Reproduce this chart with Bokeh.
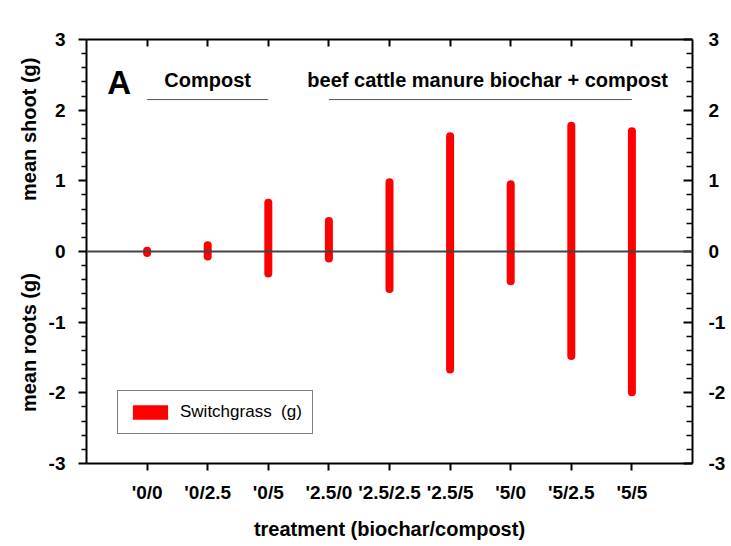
from bokeh.plotting import figure
from bokeh.models import (LinearAxis, FixedTicker, Range1d, Span, Label, Legend,
                          LegendItem, ColumnDataSource)
from bokeh.embed import file_html
from bokeh.resources import INLINE

# ---------------- data ----------------
treatments = ["'0/0", "'0/2.5", "'0/5", "'2.5/0", "'2.5/2.5", "'2.5/5", "'5/0", "'5/2.5", "'5/5"]
mean_shoot = [0.01, 0.09, 0.69, 0.43, 0.98, 1.63, 0.95, 1.78, 1.70]
mean_roots = [-0.02, -0.07, -0.31, -0.10, -0.53, -1.67, -0.42, -1.48, -1.99]
y_ticks = [-3, -2, -1, 0, 1, 2, 3]
group_names = ["Compost", "beef cattle manure biochar + compost"]
group_first = [1, 4]   # first treatment position of each group
group_last = [3, 9]    # last treatment position of each group
series_name = "Switchgrass  (g)"
x_title = "treatment (biochar/compost)"
y_title_shoot = "mean shoot (g)"
y_title_roots = "mean roots (g)"

pos = list(range(1, len(treatments) + 1))

FONT = "Liberation Sans"
NB = "\u00a0"

p = figure(width=731, height=546, output_backend="svg", toolbar_location=None,
           x_range=Range1d(0, len(treatments) + 1), y_range=Range1d(-3, 3),
           x_axis_location=None, y_axis_location=None,
           min_border_left=86, min_border_right=39, min_border_top=39, min_border_bottom=83,
           background_fill_color="white", border_fill_color="white")
p.outline_line_color = None
p.xgrid.visible = False
p.ygrid.visible = False

minor = [round(-3 + 0.2 * k, 2) for k in range(31)]
minor = [m for m in minor if m not in y_ticks]
y_labels = {t: str(t) for t in y_ticks}


def style(ax):
    ax.axis_line_color = "black"
    ax.axis_line_width = 2
    ax.major_tick_line_color = "black"
    ax.major_tick_line_width = 2
    ax.minor_tick_line_color = "black"
    ax.minor_tick_line_width = 1.5
    ax.major_label_text_font = FONT
    ax.major_label_text_font_style = "bold"
    ax.major_label_text_font_size = "19px"
    ax.major_label_text_color = "black"
    ax.axis_label_text_font = FONT
    ax.axis_label_text_font_style = "bold"
    ax.axis_label_text_font_size = "20px"
    ax.axis_label_text_color = "black"


left = LinearAxis(ticker=FixedTicker(ticks=y_ticks, minor_ticks=minor),
                  major_label_overrides=y_labels)
style(left)
left.major_tick_out = 8
left.major_tick_in = 0
left.minor_tick_out = 5
left.minor_tick_in = 0
left.major_label_standoff = 13
left.axis_label = NB * 6 + y_title_roots + NB * 13 + y_title_shoot
left.axis_label_standoff = 6
p.add_layout(left, "left")

right = LinearAxis(ticker=FixedTicker(ticks=y_ticks, minor_ticks=minor),
                   major_label_overrides=y_labels)
style(right)
right.major_tick_out = 0
right.major_tick_in = 9
right.minor_tick_out = 0
right.minor_tick_in = 6
right.major_label_standoff = 16
p.add_layout(right, "right")

bottom = LinearAxis(ticker=FixedTicker(ticks=pos),
                    major_label_overrides={i: t for i, t in zip(pos, treatments)})
style(bottom)
bottom.major_tick_out = 7
bottom.major_tick_in = 0
bottom.minor_tick_out = 0
bottom.minor_tick_in = 0
bottom.major_label_standoff = 11
bottom.axis_label = x_title
bottom.axis_label_standoff = 12
p.add_layout(bottom, "below")

top = LinearAxis(ticker=FixedTicker(ticks=pos))
style(top)
top.major_tick_out = 0
top.major_tick_in = 7
top.minor_tick_out = 0
top.minor_tick_in = 0
top.major_label_text_font_size = "1px"
top.major_label_text_color = None
top.major_label_standoff = 0
p.add_layout(top, "above")

# zero line
p.add_layout(Span(location=0, dimension="width", line_color="#444444", line_width=2))

# bars
src = ColumnDataSource(dict(x=pos, shoot=mean_shoot, roots=mean_roots))
p.segment(x0="x", y0="roots", x1="x", y1="shoot", source=src,
          line_color="#ff0000", line_width=8, line_cap="round")

# group header lines and texts
p.segment(x0=group_first, y0=[2.15] * len(group_first), x1=group_last, y1=[2.15] * len(group_last),
          line_color="#555555", line_width=1)
centers = [2.0, 6.62]
for c, name in zip(centers, group_names):
    p.add_layout(Label(x=c, y=2.42, text=name, text_align="center", text_baseline="alphabetic",
                       text_font=FONT, text_font_style="bold", text_font_size="20px",
                       text_color="black"))

p.add_layout(Label(x=0.54, y=2.39, text="A", text_align="center", text_baseline="alphabetic",
                   text_font=FONT, text_font_style="bold", text_font_size="33px",
                   text_color="black"))

# legend (glyph is a zero-area quad on the same data, only used for the legend swatch)
r_leg = p.quad(left="x", right="x", top=0, bottom=0, source=src,
               fill_color="#ff0000", line_color=None)
legend = Legend(items=[LegendItem(label=series_name, renderers=[r_leg])],
                location=(31, 29), margin=0, padding=10,
                glyph_width=44, glyph_height=18, label_height=22, label_standoff=8,
                label_text_font=FONT, label_text_font_size="17px", label_text_color="black",
                border_line_color="black", border_line_width=1,
                background_fill_color="white", background_fill_alpha=1)
p.add_layout(legend, "center")

open("out.html", "w").write(file_html(p, INLINE))
